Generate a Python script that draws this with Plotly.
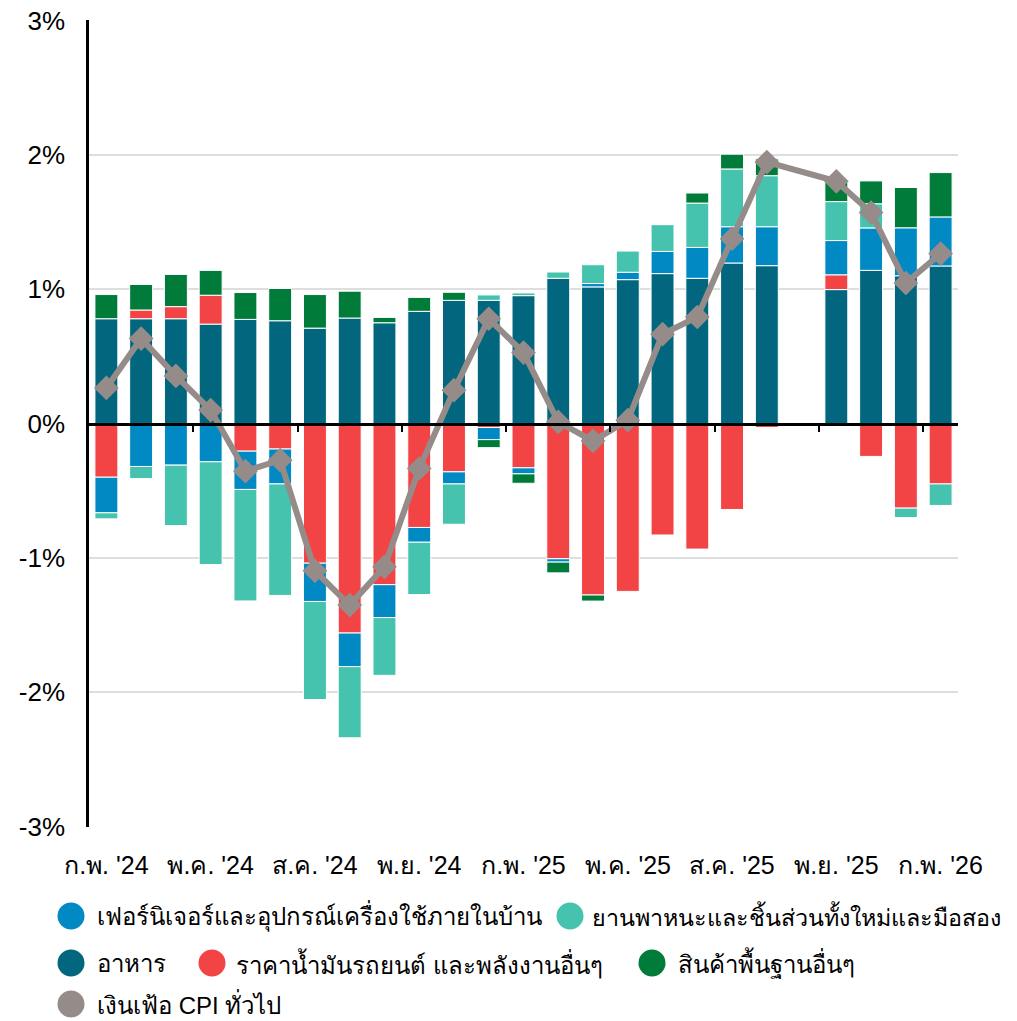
import plotly.graph_objects as go

# ---------------- data ----------------
months = ["2024-02", "2024-03", "2024-04", "2024-05", "2024-06", "2024-07",
          "2024-08", "2024-09", "2024-10", "2024-11", "2024-12", "2025-01",
          "2025-02", "2025-03", "2025-04", "2025-05", "2025-06", "2025-07",
          "2025-08", "2025-09", "2025-10", "2025-11", "2025-12", "2026-01",
          "2026-02"]

tick_labels = ["ก.พ. '24", "พ.ค. '24", "ส.ค. '24", "พ.ย. '24", "ก.พ. '25",
               "พ.ค. '25", "ส.ค. '25", "พ.ย. '25", "ก.พ. '26"]

y_tick_values = [-3, -2, -1, 0, 1, 2, 3]
y_tick_labels = ["-3%", "-2%", "-1%", "0%", "1%", "2%", "3%"]

food = [0.78, 0.78, 0.78, 0.74, 0.775, 0.765, 0.71, 0.785, 0.75, 0.835, 0.917, 0.917,
        0.952, 1.081, 1.017, 1.071, 1.116, 1.081, 1.195, 1.175, None, 0.997, 1.14, 1.10,
        1.173]
energy = [-0.40, 0.065, 0.09, 0.215, -0.206, -0.19, -1.04, -1.56, -1.20, -0.774, -0.36, -0.03,
          -0.33, -1.007, -1.277, -1.25, -0.83, -0.935, -0.64, -0.03, None, 0.11, -0.245, -0.63,
          -0.45]
furniture = [-0.265, -0.32, -0.31, -0.285, -0.285, -0.26, -0.285, -0.25, -0.245, -0.11, -0.09, -0.09,
             -0.045, -0.025, 0.025, 0.055, 0.165, 0.23, 0.27, 0.29, None, 0.255, 0.316, 0.357,
             0.365]
vehicles = [-0.045, -0.09, -0.45, -0.765, -0.83, -0.83, -0.73, -0.53, -0.43, -0.39, -0.30, 0.04,
            0.02, 0.047, 0.14, 0.16, 0.20, 0.33, 0.43, 0.38, None, 0.29, 0.18, -0.07,
            -0.16]
other_core = [0.18, 0.19, 0.24, 0.185, 0.20, 0.24, 0.25, 0.20, 0.04, 0.104, 0.06, -0.06,
              -0.07, -0.08, -0.045, 0.0, 0.0, 0.075, 0.11, 0.125, None, 0.145, 0.17, 0.30,
              0.33]
cpi = [0.265, 0.632, 0.354, 0.10, -0.355, -0.273, -1.097, -1.352, -1.067, -0.335, 0.248, 0.78,
       0.528, 0.012, -0.13, 0.025, 0.665, 0.793, 1.376, 1.946, None, 1.803, 1.57, 1.046,
       1.265]

names = {
    "furniture": "เฟอร์นิเจอร์และอุปกรณ์เครื่องใช้ภายในบ้าน",
    "vehicles": "ยานพาหนะและชิ้นส่วนทั้งใหม่และมือสอง",
    "food": "อาหาร",
    "energy": "ราคาน้ำมันรถยนต์ และพลังงานอื่นๆ",
    "other": "สินค้าพื้นฐานอื่นๆ",
    "cpi": "เงินเฟ้อ CPI ทั่วไป",
}
colors = {
    "furniture": "#0089c3",
    "vehicles": "#46c3ae",
    "food": "#02677e",
    "energy": "#f24444",
    "other": "#017b3a",
    "cpi": "#958c8a",
}

x = list(range(len(months)))
FONT = "Liberation Sans, Arial, sans-serif"

fig = go.Figure()
for key, vals in [("food", food), ("energy", energy), ("furniture", furniture),
                  ("vehicles", vehicles), ("other", other_core)]:
    fig.add_trace(go.Bar(
        x=x, y=vals, name=names[key], width=0.66,
        marker=dict(color=colors[key], line=dict(color="white", width=1)),
        showlegend=False,
    ))

fig.add_trace(go.Scatter(
    x=x, y=cpi, name=names["cpi"], xaxis="x2", yaxis="y",
    mode="lines+markers", connectgaps=True,
    line=dict(color=colors["cpi"], width=6),
    marker=dict(symbol="diamond", size=19, color=colors["cpi"]),
    showlegend=False,
))

# full-window figure; the page's default body margin is removed below
W, H = 1017, 1021
L, R, T, B = 89, 59, 20, 194
pw, ph = W - L - R, H - T - B

YR = 3.004  # tiny pad so the ±3% gridlines are drawn

fig.update_layout(
    width=W, height=H,
    margin=dict(l=L, r=R, t=T, b=B, autoexpand=False),
    paper_bgcolor="white", plot_bgcolor="white",
    barmode="relative",
    font=dict(family=FONT, size=24, color="black"),
    xaxis=dict(
        range=[-0.5, 24.5], tickvals=[0, 3, 6, 9, 12, 15, 18, 21, 24], ticktext=tick_labels,
        showline=False, showgrid=False, zeroline=False, ticks="", automargin=False,
        ticklabelstandoff=21, ticklabeloverflow="allow",
        tickfont=dict(size=25, family=FONT, color="black"),
    ),
    xaxis2=dict(
        range=[-0.5, 24.5], overlaying="x", anchor="free", position=0.5,
        tickvals=[2.5, 5.5, 8.5, 11.5, 14.5, 17.5, 20.5, 23.5], showticklabels=False,
        ticks="outside", ticklen=7, tickwidth=2, tickcolor="black", automargin=False,
        showline=True, linecolor="black", linewidth=2.5,
        showgrid=False, zeroline=False,
    ),
    yaxis=dict(
        range=[-YR, YR], tickvals=y_tick_values, ticktext=y_tick_labels,
        showgrid=True, gridcolor="#dedede", gridwidth=1.5,
        showline=True, linecolor="black", linewidth=2.5, automargin=False,
        zeroline=False, ticks="", ticklabelstandoff=16, ticklabeloverflow="allow",
        tickfont=dict(size=26, family=FONT, color="black"),
    ),
)

# ---------------- custom legend (circle + text), window pixel positions ----------------
def px_x(px):
    return (px - L) / pw

def px_y(py):
    return (H - B - py) / ph

legend_items = [
    ("furniture", 71, 95, 916, 24),
    ("vehicles", 570, 590, 916, 23.3),
    ("food", 71, 95, 963, 24),
    ("energy", 212, 234, 963, 24),
    ("other", 652, 676, 963, 24),
    ("cpi", 71, 95, 1004, 24),
]
for key, cx, tx, cy, fs in legend_items:
    fig.add_shape(
        type="circle", xref="paper", yref="paper",
        xsizemode="pixel", ysizemode="pixel",
        xanchor=px_x(cx), yanchor=px_y(cy),
        x0=-13.5, x1=13.5, y0=-13.5, y1=13.5,
        fillcolor=colors[key], line=dict(width=0),
    )
    fig.add_annotation(
        x=px_x(tx), y=px_y(cy), xref="paper", yref="paper",
        xanchor="left", yanchor="middle", showarrow=False,
        text=names[key], font=dict(size=fs, family=FONT, color="black"),
    )

fig.write_html(
    "out.html",
    config={"displayModeBar": False},
    post_script="document.body.style.margin='0px';document.body.style.overflow='hidden';",
)
